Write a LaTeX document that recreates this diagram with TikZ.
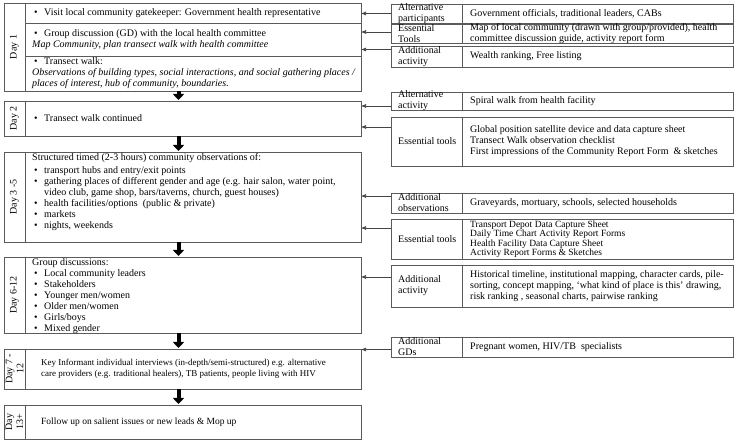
\documentclass[tikz,border=0pt]{standalone}
\usepackage{fontspec}
\setmainfont{Liberation Serif}
\usepackage{xcolor}
\usetikzlibrary{positioning,calc,arrows.meta}

\definecolor{framegray}{HTML}{5A5A5A}
\definecolor{linegray}{HTML}{454545}
\newcommand{\itm}{\makebox[12pt][l]{\hspace{2pt}\textbullet}}

\begin{document}
\begin{tikzpicture}[x=1pt, y=-1pt, font=\fontsize{10}{11}\selectfont,
    boxframe/.style={draw=framegray, line width=0.8pt, anchor=north west, inner sep=0pt, outer sep=0pt},
    daylabel/.style={rotate=90, align=center, inner sep=0pt},
    daytext/.style={anchor=west, align=left, inner sep=0pt, xshift=7pt},
    sidelabel/.style={anchor=west, align=left, inner sep=0pt, xshift=7pt},
    sidetext/.style={anchor=west, align=left, inner sep=0pt, xshift=8pt},
    feeds/.style={draw=linegray, line width=0.6pt, -{Latex[length=5pt,width=4pt]}},
    blockarrow/.style={line width=4pt, -{Triangle[width=11pt,length=6pt]}, shorten >=1pt}]
    \useasboundingbox (0,0) rectangle (737,443);

    \node[boxframe, minimum width=357pt, minimum height=88pt] (day_one) at (4,3) {};
    \node[boxframe, minimum width=21pt, minimum height=88pt] (day_one_lab) at (4,3) {};
    \node[boxframe, minimum width=336pt, minimum height=20pt] (day_one_a) at (25,3) {};
    \node[boxframe, minimum width=336pt, minimum height=33pt] (day_one_b) at (25,23) {};
    \node[boxframe, minimum width=336pt, minimum height=35pt] (day_one_c) at (25,56) {};
    \node[daylabel] (day_one_name) at (day_one_lab) {Day 1};
    \node[daytext] (day_one_txt_a) at (day_one_a.west) {\itm Visit local community gatekeeper: Government health representative};
    \node[daytext] (day_one_txt_b) at (day_one_b.west) {\itm Group discussion (GD) with the local health committee\\ \textit{Map Community, plan transect walk with health committee}};
    \node[daytext] (day_one_txt_c) at (day_one_c.west) {\itm Transect walk:\\ \textit{Observations of building types, social interactions, and social gathering places /}\\ \textit{places of interest, hub of community, boundaries.}};

    \node[boxframe, minimum width=357pt, minimum height=35pt] (day_two) at (4,101) {};
    \node[boxframe, minimum width=21pt, minimum height=35pt] (day_two_lab) at (4,101) {};
    \node[daylabel] (day_two_name) at (day_two_lab) {Day 2};
    \node[daytext] (day_two_txt) at (day_two_lab.east) {\itm Transect walk continued};

    \node[boxframe, minimum width=357pt, minimum height=90pt] (day_three) at (4,152) {};
    \node[boxframe, minimum width=21pt, minimum height=90pt] (day_three_lab) at (4,152) {};
    \node[daylabel] (day_three_name) at (day_three_lab) {Day 3 -5};
    \node[daytext, anchor=north west, yshift=-1.5pt] (day_three_txt) at (day_three_lab.north east) {Structured timed (2-3 hours) community observations of:\\[2pt]
        \itm transport hubs and entry/exit points\\
        \itm gathering places of different gender and age (e.g. hair salon, water point,\\
        \hspace*{12pt}video club, game shop, bars/taverns, church, guest houses)\\
        \itm health facilities/options\ \ (public \& private)\\
        \itm markets\\
        \itm nights, weekends};

    \node[boxframe, minimum width=357pt, minimum height=76pt] (day_six) at (4,257) {};
    \node[boxframe, minimum width=21pt, minimum height=76pt] (day_six_lab) at (4,257) {};
    \node[daylabel] (day_six_name) at (day_six_lab) {Day 6-12};
    \node[daytext, yshift=-1.5pt] (day_six_txt) at (day_six_lab.east) {Group discussions:\\ \itm Local community leaders\\ \itm Stakeholders\\ \itm Younger men/women\\ \itm Older men/women\\ \itm Girls/boys\\ \itm Mixed gender};

    \node[boxframe, minimum width=357pt, minimum height=40pt] (day_seven) at (4,349) {};
    \node[boxframe, minimum width=21pt, minimum height=40pt] (day_seven_lab) at (4,349) {};
    \node[daylabel] (day_seven_name) at (day_seven_lab) {Day 7 -\\12};
    \node[daytext, xshift=9pt, font=\fontsize{9}{11}\selectfont] (day_seven_txt) at (day_seven_lab.east) {Key Informant individual interviews (in-depth/semi-structured) e.g. alternative\\ care providers (e.g. traditional healers), TB patients, people living with HIV};

    \node[boxframe, minimum width=357pt, minimum height=34pt] (day_last) at (4,405) {};
    \node[boxframe, minimum width=21pt, minimum height=34pt] (day_last_lab) at (4,405) {};
    \node[daylabel] (day_last_name) at (day_last_lab) {Day\\13+};
    \node[daytext, xshift=9pt, font=\fontsize{9.5}{11}\selectfont] (day_last_txt) at (day_last_lab.east) {Follow up on salient issues or new leads \& Mop up};

    \node[boxframe, minimum width=342pt, minimum height=19pt] (alt_part) at (391,4) {};
    \node[boxframe, minimum width=71pt, minimum height=19pt] (alt_part_lab) at (391,4) {};
    \node[sidelabel] (alt_part_name) at (alt_part_lab.west) {Alternative\\participants};
    \node[sidetext] (alt_part_txt) at (alt_part_lab.east) {Government officials, traditional leaders, CABs};

    \node[boxframe, minimum width=342pt, minimum height=19pt] (ess_one) at (391,24) {};
    \node[boxframe, minimum width=71pt, minimum height=19pt] (ess_one_lab) at (391,24) {};
    \node[sidelabel] (ess_one_name) at (ess_one_lab.west) {Essential\\Tools};
    \node[sidetext] (ess_one_txt) at (ess_one_lab.east) {Map of local community (drawn with group/provided), health\\committee discussion guide, activity report form};

    \node[boxframe, minimum width=342pt, minimum height=21pt] (add_act_one) at (391,46) {};
    \node[boxframe, minimum width=71pt, minimum height=21pt] (add_act_one_lab) at (391,46) {};
    \node[sidelabel] (add_act_one_name) at (add_act_one_lab.west) {Additional\\activity};
    \node[sidetext] (add_act_one_txt) at (add_act_one_lab.east) {Wealth ranking, Free listing};

    \node[boxframe, minimum width=342pt, minimum height=18pt] (alt_act) at (391,92) {};
    \node[boxframe, minimum width=71pt, minimum height=18pt] (alt_act_lab) at (391,92) {};
    \node[sidelabel] (alt_act_name) at (alt_act_lab.west) {Alternative\\activity};
    \node[sidetext] (alt_act_txt) at (alt_act_lab.east) {Spiral walk from health facility};

    \node[boxframe, minimum width=342pt, minimum height=49pt] (ess_two) at (391,117) {};
    \node[boxframe, minimum width=71pt, minimum height=49pt] (ess_two_lab) at (391,117) {};
    \node[sidelabel] (ess_two_name) at (ess_two_lab.west) {Essential tools};
    \node[sidetext] (ess_two_txt) at (ess_two_lab.east) {Global position satellite device and data capture sheet\\Transect Walk observation checklist\\First impressions of the Community Report Form\ \ \& sketches};

    \node[boxframe, minimum width=342pt, minimum height=20pt] (add_obs) at (391,193) {};
    \node[boxframe, minimum width=71pt, minimum height=20pt] (add_obs_lab) at (391,193) {};
    \node[sidelabel] (add_obs_name) at (add_obs_lab.west) {Additional\\observations};
    \node[sidetext] (add_obs_txt) at (add_obs_lab.east) {Graveyards, mortuary, schools, selected households};

    \node[boxframe, minimum width=342pt, minimum height=40pt] (ess_three) at (391,219) {};
    \node[boxframe, minimum width=71pt, minimum height=40pt] (ess_three_lab) at (391,219) {};
    \node[sidelabel] (ess_three_name) at (ess_three_lab.west) {Essential tools};
    \node[sidetext, font=\fontsize{9.5}{9.5}\selectfont] (ess_three_txt) at (ess_three_lab.east) {Transport Depot Data Capture Sheet\\Daily Time Chart Activity Report Forms\\Health Facility Data Capture Sheet\\Activity Report Forms \& Sketches};

    \node[boxframe, minimum width=342pt, minimum height=42pt] (add_act_two) at (391,265) {};
    \node[boxframe, minimum width=71pt, minimum height=42pt] (add_act_two_lab) at (391,265) {};
    \node[sidelabel] (add_act_two_name) at (add_act_two_lab.west) {Additional\\activity};
    \node[sidetext] (add_act_two_txt) at (add_act_two_lab.east) {Historical timeline, institutional mapping, character cards, pile-\\sorting, concept mapping, ‘what kind of place is this’ drawing,\\risk ranking , seasonal charts, pairwise ranking};

    \node[boxframe, minimum width=342pt, minimum height=20pt] (add_gd) at (391,337) {};
    \node[boxframe, minimum width=71pt, minimum height=20pt] (add_gd_lab) at (391,337) {};
    \node[sidelabel] (add_gd_name) at (add_gd_lab.west) {Additional\\GDs};
    \node[sidetext] (add_gd_txt) at (add_gd_lab.east) {Pregnant women, HIV/TB\ \ specialists};

    \draw[feeds] (alt_part.west) -- (alt_part.west -| day_one.east);
    \draw[feeds] ([yshift=1.5pt]ess_one.west) -- ([yshift=1.5pt]ess_one.west -| day_one.east);
    \draw[feeds] ([yshift=7pt]add_act_one.west) -- ([yshift=7pt]add_act_one.west -| day_one.east);
    \draw[feeds] ([yshift=-5pt]alt_act.west) -- ([yshift=-5pt]alt_act.west -| day_two.east);
    \draw[feeds] ([yshift=14.5pt]ess_two.west) -- ([yshift=14.5pt]ess_two.west -| day_two.east);
    \draw[feeds] ([yshift=7pt]add_obs.west) -- ([yshift=7pt]add_obs.west -| day_three.east);
    \draw[feeds] ([yshift=11pt]ess_three.west) -- ([yshift=11pt]ess_three.west -| day_three.east);
    \draw[feeds] ([yshift=9pt]add_act_two.west) -- ([yshift=9pt]add_act_two.west -| day_six.east);
    \draw[feeds] ([yshift=-2.5pt]add_gd.west) -- ([yshift=-2.5pt]add_gd.west -| day_seven.east);

    \draw[blockarrow] ([xshift=-4pt]day_one.south) -- ([xshift=-4pt]day_two.north);
    \draw[blockarrow] ([xshift=-4pt]day_two.south) -- ([xshift=-4pt]day_three.north);
    \draw[blockarrow] ([xshift=-4pt]day_three.south) -- ([xshift=-4pt]day_six.north);
    \draw[blockarrow] ([xshift=-4pt]day_six.south) -- ([xshift=-4pt]day_seven.north);
    \draw[blockarrow] ([xshift=-4pt]day_seven.south) -- ([xshift=-4pt]day_last.north);
\end{tikzpicture}
\end{document}
